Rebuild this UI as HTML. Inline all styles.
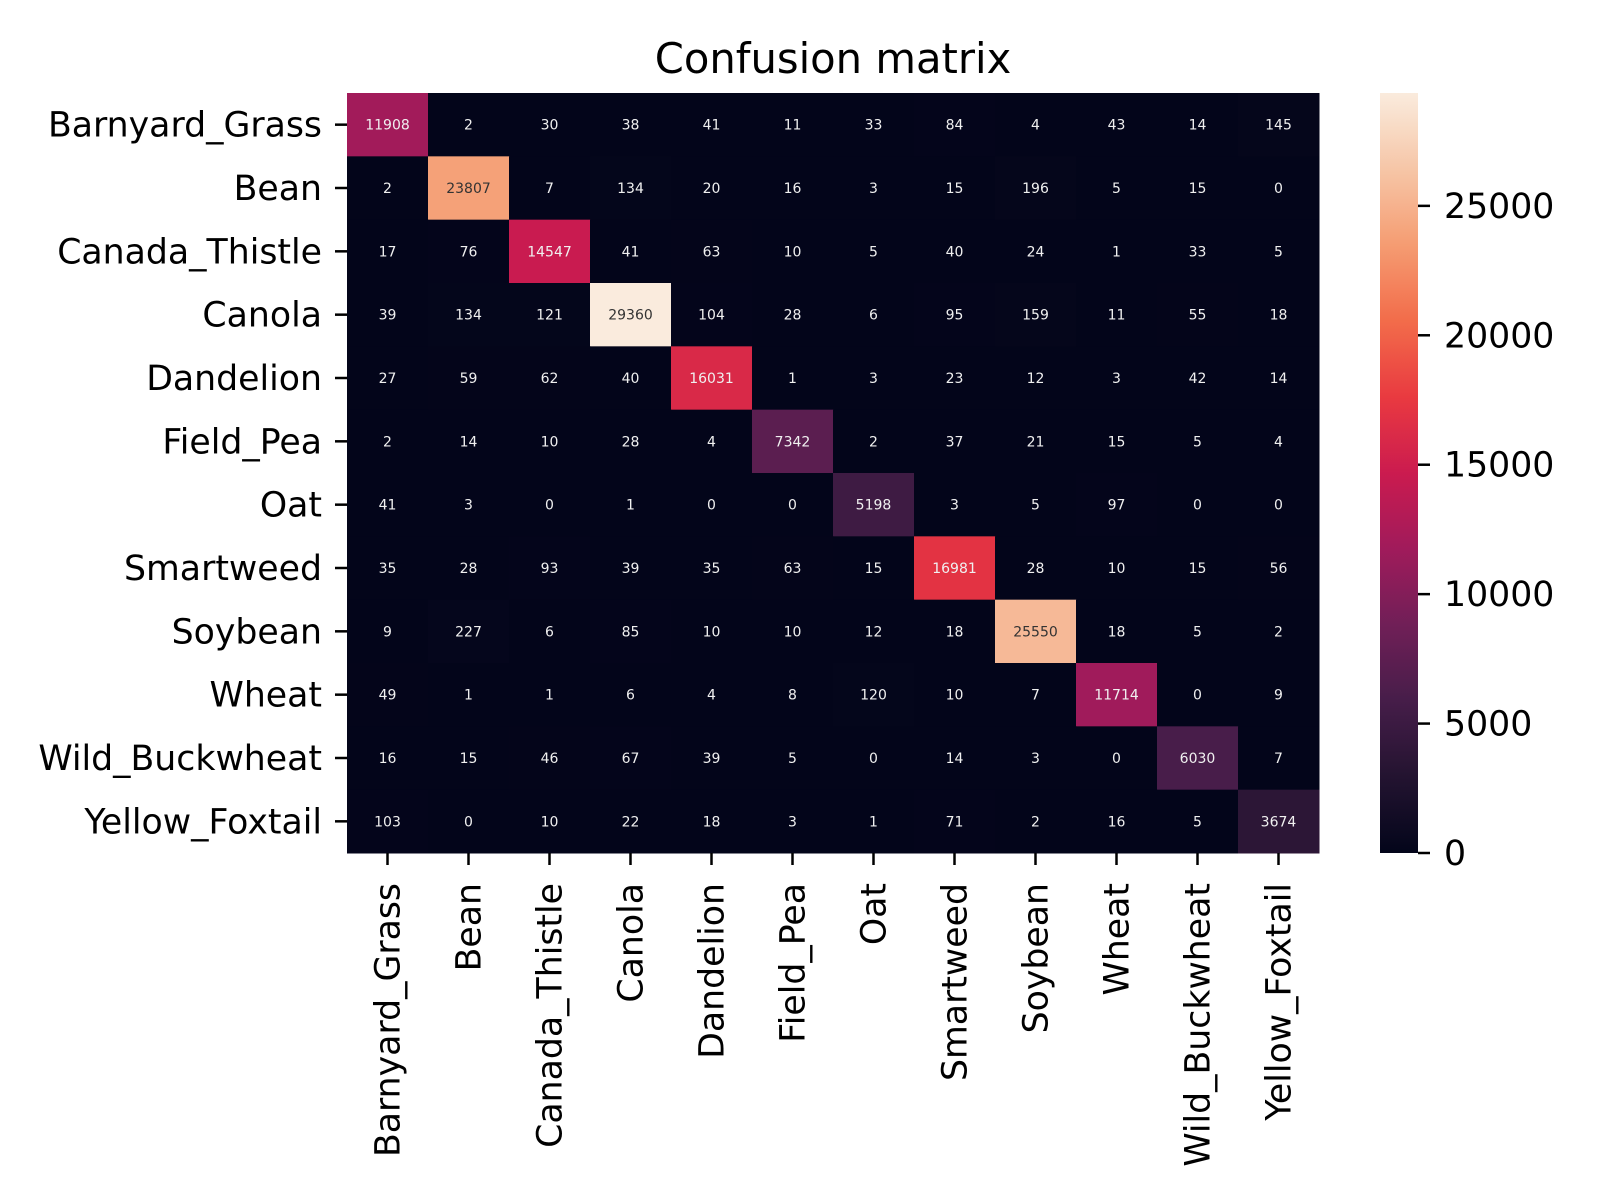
<!DOCTYPE html>
<html><head><meta charset="utf-8"><style>
html,body{margin:0;padding:0;background:#fff;}
svg{display:block;font-family:"DejaVu Sans","Liberation Sans",sans-serif;}
</style></head><body>
<svg id="chart" width="1600" height="1200" viewBox="0 0 1600 1200" xmlns="http://www.w3.org/2000/svg">
<text x="833" y="73" font-size="41.7" text-anchor="middle" fill="#000">Confusion matrix</text>
<defs><linearGradient id="cbgrad" x1="0" y1="1" x2="0" y2="0"></linearGradient></defs>
<g id="cells"></g><g id="xaxis"></g><g id="yaxis"></g><g id="cbar"></g>
</svg>
<script>
const labels = ["Barnyard_Grass","Bean","Canada_Thistle","Canola","Dandelion","Field_Pea","Oat","Smartweed","Soybean","Wheat","Wild_Buckwheat","Yellow_Foxtail"];
const row0 = [11908,2,30,38,41,11,33,84,4,43,14,145];
const row1 = [2,23807,7,134,20,16,3,15,196,5,15,0];
const row2 = [17,76,14547,41,63,10,5,40,24,1,33,5];
const row3 = [39,134,121,29360,104,28,6,95,159,11,55,18];
const row4 = [27,59,62,40,16031,1,3,23,12,3,42,14];
const row5 = [2,14,10,28,4,7342,2,37,21,15,5,4];
const row6 = [41,3,0,1,0,0,5198,3,5,97,0,0];
const row7 = [35,28,93,39,35,63,15,16981,28,10,15,56];
const row8 = [9,227,6,85,10,10,12,18,25550,18,5,2];
const row9 = [49,1,1,6,4,8,120,10,7,11714,0,9];
const row10 = [16,15,46,67,39,5,0,14,3,0,6030,7];
const row11 = [103,0,10,22,18,3,1,71,2,16,5,3674];
const matrix = [row0,row1,row2,row3,row4,row5,row6,row7,row8,row9,row10,row11];
const cbTicks = [0,5000,10000,15000,20000,25000];

const NS="http://www.w3.org/2000/svg";
const L=347,R=1319,T=93,B=853;
const n=labels.length, cw=(R-L)/n, ch=(B-T)/n;
let vmax=0; matrix.forEach(r=>r.forEach(v=>{if(v>vmax)vmax=v;}));
const vmin=0;
const stops=[[3,5,26],[35,19,48],[70,29,73],[112,31,87],[160,27,91],[203,27,79],[233,58,64],[242,108,74],[245,156,114],[246,198,167],[250,235,221]];
function cmap(t){t=Math.max(0,Math.min(1,t));const p=t*(stops.length-1);const i=Math.min(stops.length-2,Math.floor(p));const f=p-i;
 const c=stops[i].map((a,k)=>Math.round(a+(stops[i+1][k]-a)*f));return c;}
function lum(c){const l=c.map(v=>{v/=255;return v<=0.03928?v/12.92:Math.pow((v+0.055)/1.055,2.4);});return 0.2126*l[0]+0.7152*l[1]+0.0722*l[2];}
const xs=j=>L+j*cw, ys=i=>T+i*ch;
function mk(tag,attrs,parent){const e=document.createElementNS(NS,tag);for(const k in attrs)e.setAttribute(k,attrs[k]);parent.appendChild(e);return e;}
const cells=document.getElementById('cells');
matrix.forEach((row,i)=>row.forEach((v,j)=>{
 const c=cmap((v-vmin)/(vmax-vmin));
 const r=mk('rect',{x:xs(j),y:ys(i),width:cw+0.5,height:ch+0.5,fill:`rgb(${c})`},cells);
 
 
 const t=mk('text',{x:xs(j)+cw/2,y:ys(i)+ch/2+5,'font-size':14,'text-anchor':'middle',fill:lum(c)>0.408?'#333333':'#f0f0f0'},cells);
 t.textContent=v;
 
 
}));
const xa=document.getElementById('xaxis'), ya=document.getElementById('yaxis');
labels.forEach((lab,k)=>{
 const cx=xs(k)+cw/2;
 mk('line',{x1:cx,y1:B,x2:cx,y2:B+12,stroke:'#000','stroke-width':2.5},xa);
 const t=mk('text',{x:0,y:0,'font-size':34.7,'text-anchor':'end',transform:`translate(${cx+12},${B+30}) rotate(-90)`,fill:'#000'},xa);
 t.textContent=lab;
 
 
 const cy=ys(k)+ch/2;
 mk('line',{x1:L-12,y1:cy,x2:L,y2:cy,stroke:'#000','stroke-width':2.5},ya);
 const u=mk('text',{x:L-25,y:cy+12,'font-size':34.7,'text-anchor':'end',fill:'#000'},ya);
 u.textContent=lab;
 
 
});
const g=document.getElementById('cbgrad');
for(let s=0;s<=40;s++){const c=cmap(s/40);mk('stop',{offset:(s/40),'stop-color':`rgb(${c})`},g);}
const cb=document.getElementById('cbar');
const CL=1380,CR=1418;
const cbY=v=>B-(v-vmin)/(vmax-vmin)*(B-T);
const cr=mk('rect',{x:CL,y:T,width:CR-CL,height:B-T,fill:'url(#cbgrad)'},cb);


cbTicks.forEach(v=>{
 const y=cbY(v);
 mk('line',{x1:CR,y1:y,x2:CR+12,y2:y,stroke:'#000','stroke-width':2.5},cb);
 const t=mk('text',{x:CR+26,y:y+12,'font-size':34.7,fill:'#000'},cb);
 t.textContent=v;
 
 
});
</script>
</body></html>
